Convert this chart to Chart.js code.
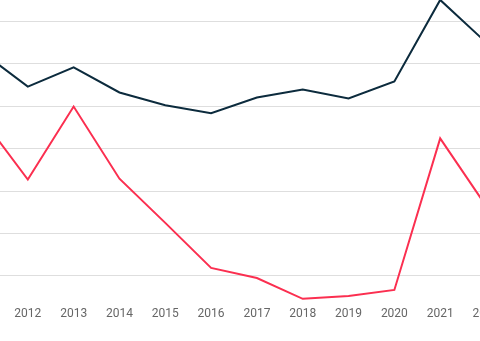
<!DOCTYPE html>
<html>
<head>
<meta charset="utf-8">
<script src="https://cdn.jsdelivr.net/npm/chart.js@4/dist/chart.umd.min.js"></script>
<style>
  html, body { margin: 0; padding: 0; background: #fff; overflow: hidden; width: 480px; height: 341px; }
  #wrap { position: absolute; left: -60px; top: -60px; width: 600px; height: 390px; }
</style>
</head>
<body>
<div id="wrap"><canvas id="c"></canvas></div>
<script>
const years = ['2011','2012','2013','2014','2015','2016','2017','2018','2019','2020','2021','2022'];
const darkSeries = [62.7, 54.6, 59.1, 53.2, 50.2, 48.3, 52.0, 53.9, 51.8, 55.8, 75.0, 65.0];
const redSeries  = [47.1, 32.7, 49.9, 32.9, 22.5, 11.9, 9.5, 4.6, 5.3, 6.7, 42.4, 26.5];
const gridValues = [10, 20, 30, 40, 50, 60, 70, 80];

new Chart(document.getElementById('c'), {
  type: 'line',
  data: {
    labels: years,
    datasets: [
      { label: 'A', data: darkSeries, borderColor: '#0c2b3d', borderWidth: 2, pointRadius: 0, tension: 0, fill: false },
      { label: 'B', data: redSeries, borderColor: '#fb2f50', borderWidth: 2, pointRadius: 0, tension: 0, fill: false }
    ]
  },
  options: {
    responsive: true,
    maintainAspectRatio: false,
    animation: false,
    devicePixelRatio: 1,
    layout: { padding: { left: 42, right: 54, top: 38.7, bottom: 4.2 } },
    plugins: { legend: { display: false }, tooltip: { enabled: false } },
    scales: {
      x: {
        offset: false,
        grid: { display: false, drawTicks: false },
        border: { display: false },
        ticks: { color: '#666', font: { family: 'Roboto', size: 12 }, padding: 5, maxRotation: 0, autoSkip: false }
      },
      y: {
        min: 4,
        max: 80,
        grid: { color: '#dedede', lineWidth: 1, drawTicks: false },
        border: { display: false },
        ticks: { display: false, stepSize: 10 },
        afterBuildTicks: (scale) => { scale.ticks = gridValues.map(v => ({ value: v })); }
      }
    }
  }
});
</script>
</body>
</html>
